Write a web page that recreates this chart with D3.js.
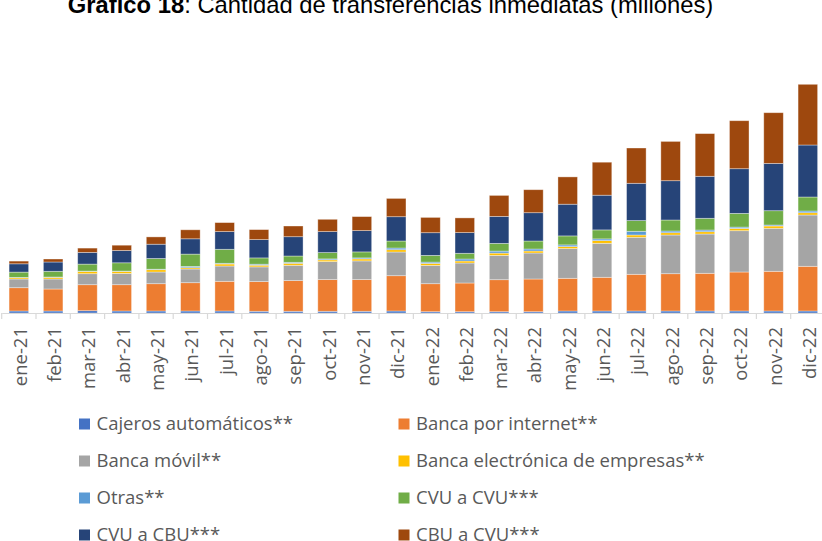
<!DOCTYPE html>
<html lang="es">
<head>
<meta charset="UTF-8">
<title>Transferencias inmediatas</title>
<script src="https://d3js.org/d3.v7.min.js"></script>
<style>
  body { margin: 0; background: #fff; }
</style>
</head>
<body>
<svg width="822" height="541"></svg>
<script>
// meses
const months = ["ene-21","feb-21","mar-21","abr-21","may-21","jun-21","jul-21","ago-21","sep-21","oct-21","nov-21","dic-21",
                "ene-22","feb-22","mar-22","abr-22","may-22","jun-22","jul-22","ago-22","sep-22","oct-22","nov-22","dic-22"];

// series (millones)
const cajeros   = [2, 2, 2.3, 2, 2, 2, 2, 1.7, 1.7, 1.7, 1.7, 2, 1.3, 1.3, 1.3, 1.3, 2, 2, 2, 2, 2, 2, 2, 2];
const internet  = [23.3, 22, 26, 26.3, 27.3, 28.3, 29.7, 29.7, 30.7, 31.7, 31.7, 35.3, 28, 28.7, 32, 32.7, 32.7, 33.7, 36.7, 37.3, 37.7, 39, 39.7, 44.7];
const movil     = [8.7, 10, 11, 11.3, 11.7, 13.7, 15.3, 14.7, 15.3, 18, 18.7, 23.7, 18.3, 20, 24.3, 26, 29.7, 34, 37, 38.7, 39.3, 41.3, 43, 51.3];
const empresas  = [1.3, 1.7, 2.3, 2, 2.3, 1.3, 2, 1.7, 2, 1.7, 2, 2.3, 2, 2, 2.3, 2, 2, 2.7, 2.3, 2.3, 2.3, 2.3, 2.3, 2.3];
const otras     = [0.3, 0.3, 0.3, 0.3, 0.5, 1.3, 0.7, 1, 1, 1, 1, 1.7, 1.3, 2, 2, 2, 1.7, 1.7, 3.7, 1.7, 1.7, 1.3, 1, 1.7];
const cvuCvu    = [5.3, 5.7, 7, 8.3, 10.7, 12.3, 14, 6.3, 6.3, 6.3, 6, 7, 6.7, 5.7, 7.7, 8, 9, 9, 10.7, 11, 11.7, 13.7, 14.3, 14];
const cvuCbu    = [8.3, 9.3, 11.7, 12.3, 14.3, 15.3, 17.7, 18.3, 19.3, 21, 21.3, 24.3, 22.7, 20.7, 27, 28.3, 31.7, 34.7, 37.3, 39.3, 42, 44.7, 47.3, 52];
const cbuCvu    = [2.7, 3, 4.3, 5.3, 7.3, 9, 9, 10, 10.7, 12.3, 14, 18.3, 15.3, 14.7, 21, 23, 27.3, 33, 35.3, 39.3, 42.7, 48, 50.7, 60.7];

const seriesNames = ["Cajeros automáticos**", "Banca por internet**", "Banca móvil**", "Banca electrónica de empresas**",
                     "Otras**", "CVU a CVU***", "CVU a CBU***", "CBU a CVU***"];
const seriesValues = [cajeros, internet, movil, empresas, otras, cvuCvu, cvuCbu, cbuCvu];
const colors = ["#4472C4", "#ED7D31", "#A5A5A5", "#FFC000", "#5B9BD5", "#70AD47", "#264478", "#9E480E"];

const table = months.map((m, i) => {
  const row = { month: m };
  seriesNames.forEach((s, j) => row[s] = seriesValues[j][i]);
  return row;
});

const svg = d3.select("svg");

const x = d3.scaleBand()
  .domain(months)
  .range([1.7, 825])
  .paddingInner(0.43)
  .paddingOuter(0.215);

const y = d3.scaleLinear()
  .domain([0, 240])
  .range([313, 73]);

const stack = d3.stack().keys(seriesNames);
const layers = stack(table);

// barras apiladas
svg.append("g")
  .selectAll("g")
  .data(layers)
  .join("g")
  .attr("fill", (d, i) => colors[i])
  .selectAll("rect")
  .data(d => d)
  .join("rect")
  .attr("x", d => x(d.data.month))
  .attr("width", x.bandwidth())
  .attr("y", d => y(d[1]))
  .attr("height", d => y(d[0]) - y(d[1]))
  .attr("stroke", "rgba(255,255,255,0.45)")
  .attr("stroke-width", 0.8);

// eje x
const xAxis = svg.append("g")
  .attr("transform", `translate(0,${y(0)})`)
  .call(d3.axisBottom(x).tickSize(0).tickFormat(""));
xAxis.select(".domain").attr("stroke", "#d9d9d9").attr("stroke-width", 1.2);

const step = x.step();
svg.append("g")
  .selectAll("line")
  .data(months)
  .join("line")
  .attr("x1", d => x(d) - x.paddingInner() * step / 2)
  .attr("x2", d => x(d) - x.paddingInner() * step / 2)
  .attr("y1", y(0))
  .attr("y2", y(0) + 6)
  .attr("stroke", "#d9d9d9")
  .attr("stroke-width", 1.2);

svg.append("g")
  .selectAll("text")
  .data(months)
  .join("text")
  .attr("transform", d => `translate(${x(d) + x.bandwidth() / 2 + 8},327) rotate(-90)`)
  .attr("text-anchor", "end")
  .style("font-family", "'Open Sans', sans-serif")
  .style("font-size", "18.5px")
  .attr("fill", "#595959")
  .text(d => d);

// titulo
const title = svg.append("text")
  .attr("x", 390.5)
  .attr("y", 13)
  .attr("text-anchor", "middle")
  .style("font-family", "'Liberation Sans', Arial, sans-serif")
  .style("font-size", "23.8px")
  .attr("fill", "#000");
title.append("tspan").style("font-weight", "bold").text("Gráfico 18");
title.append("tspan").text(": Cantidad de transferencias inmediatas (millones)");

// leyenda
const legend = svg.append("g")
  .selectAll("g")
  .data(seriesNames)
  .join("g")
  .attr("transform", (d, i) => `translate(${i % 2 === 0 ? 79 : 398.5},${424 + Math.floor(i / 2) * 37})`);

legend.append("rect")
  .attr("x", 0)
  .attr("y", -5.5)
  .attr("width", 11)
  .attr("height", 11)
  .attr("fill", (d, i) => colors[i]);

legend.append("text")
  .attr("x", 17.5)
  .attr("dy", "0.35em")
  .style("font-family", "'Open Sans', sans-serif")
  .style("font-size", "18.5px")
  .attr("fill", "#595959")
  .text(d => d);
</script>
</body>
</html>
